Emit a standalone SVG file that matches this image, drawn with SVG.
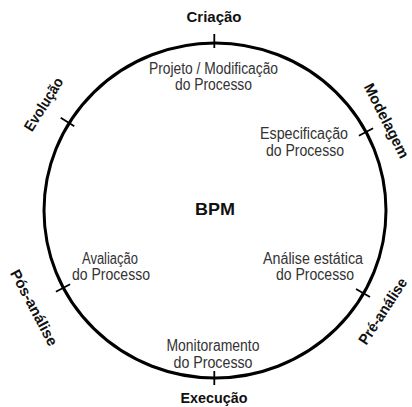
<svg xmlns="http://www.w3.org/2000/svg" width="412" height="407" viewBox="0 0 412 407">
  <style>
    .ring { fill: none; stroke: #000; stroke-width: 3; }
    .tick { stroke: #000; stroke-width: 1.8; stroke-linecap: butt; }
    .step { font-family: "Liberation Sans", Arial, sans-serif; font-size: 16px; fill: #333; text-anchor: middle; }
    .phase { font-family: "Liberation Sans", Arial, sans-serif; font-size: 14.5px; font-weight: bold; fill: #111; text-anchor: middle; }
    .side { font-size: 15px; }
    .core { font-family: "Liberation Sans", Arial, sans-serif; font-size: 17px; font-weight: bold; fill: #111; text-anchor: middle; }
  </style>

  <rect width="412" height="407" fill="#fff"/>

  <!-- lifecycle ring with phase boundary ticks -->
  <g id="connectors">
    <ellipse class="ring" cx="215" cy="210.5" rx="171" ry="167.5"/>
    <line class="tick" x1="214.3" y1="34" x2="214.3" y2="48"/>
    <line class="tick" x1="214.3" y1="371" x2="214.3" y2="385"/>
    <line class="tick" x1="60.7" y1="117.8" x2="74.3" y2="126.2"/>
    <line class="tick" x1="358.9" y1="135.7" x2="373.1" y2="128.3"/>
    <line class="tick" x1="55.9" y1="291.7" x2="70.1" y2="284.3"/>
    <line class="tick" x1="356" y1="289" x2="370" y2="297"/>
  </g>

  <!-- centre -->
  <g id="bpm">
    <text class="core" x="215" y="215" textLength="40" lengthAdjust="spacingAndGlyphs">BPM</text>
  </g>

  <!-- process steps inside the ring -->
  <g id="projeto">
    <text class="step" x="213.5" y="74" textLength="129" lengthAdjust="spacingAndGlyphs">Projeto / Modificação</text>
    <text class="step" x="213.5" y="90" textLength="77" lengthAdjust="spacingAndGlyphs">do Processo</text>
  </g>
  <g id="especificacao">
    <text class="step" x="304" y="139" textLength="88" lengthAdjust="spacingAndGlyphs">Especificação</text>
    <text class="step" x="305" y="156" textLength="78" lengthAdjust="spacingAndGlyphs">do Processo</text>
  </g>
  <g id="analise">
    <text class="step" x="313" y="264" textLength="100" lengthAdjust="spacingAndGlyphs">Análise estática</text>
    <text class="step" x="315" y="280" textLength="78" lengthAdjust="spacingAndGlyphs">do Processo</text>
  </g>
  <g id="monitoramento">
    <text class="step" x="213" y="351" textLength="93" lengthAdjust="spacingAndGlyphs">Monitoramento</text>
    <text class="step" x="213" y="368" textLength="79" lengthAdjust="spacingAndGlyphs">do Processo</text>
  </g>
  <g id="avaliacao">
    <text class="step" x="110" y="264" textLength="56" lengthAdjust="spacingAndGlyphs">Avaliação</text>
    <text class="step" x="111" y="280" textLength="78" lengthAdjust="spacingAndGlyphs">do Processo</text>
  </g>

  <!-- phase names around the ring -->
  <g id="criacao">
    <text class="phase" x="214" y="22" textLength="55" lengthAdjust="spacingAndGlyphs">Criação</text>
  </g>
  <g id="execucao">
    <text class="phase" x="214" y="403" textLength="67" lengthAdjust="spacingAndGlyphs">Execução</text>
  </g>
  <g id="evolucao">
    <text class="phase side" transform="translate(48 107) rotate(-58)" textLength="60" lengthAdjust="spacingAndGlyphs">Evolução</text>
  </g>
  <g id="modelagem">
    <text class="phase side" transform="translate(382 123) rotate(63)" textLength="82" lengthAdjust="spacingAndGlyphs">Modelagem</text>
  </g>
  <g id="pos-analise">
    <text class="phase side" transform="translate(29.5 310) rotate(62)" textLength="84" lengthAdjust="spacingAndGlyphs">Pós-análise</text>
  </g>
  <g id="pre-analise">
    <text class="phase side" transform="translate(387 314) rotate(-57)" textLength="76" lengthAdjust="spacingAndGlyphs">Pré-análise</text>
  </g>
</svg>
